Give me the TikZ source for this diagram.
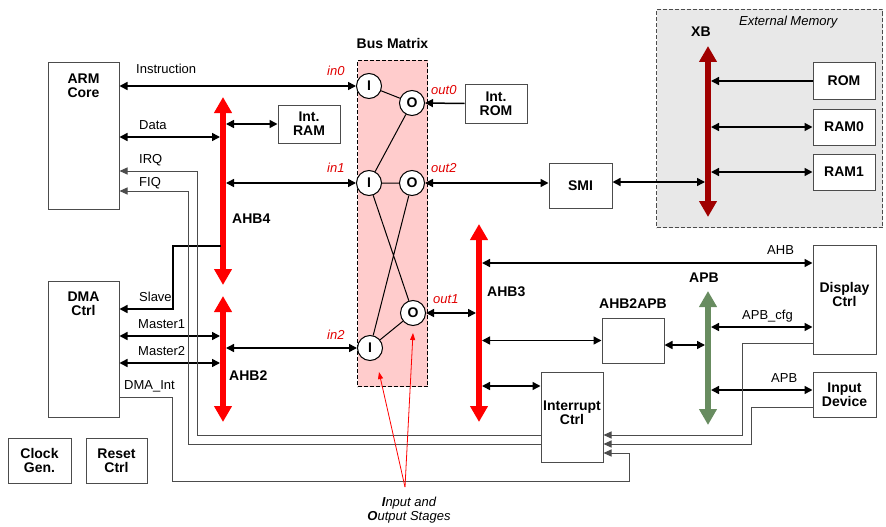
\documentclass[tikz,border=0pt]{standalone}
\usepackage{fontspec}
\setmainfont{Liberation Sans}
\usetikzlibrary{arrows.meta,positioning}

\definecolor{matrixpink}{RGB}{255,204,204}
\definecolor{extgray}{RGB}{232,232,232}
\definecolor{xbred}{RGB}{160,0,0}
\definecolor{apbgreen}{RGB}{104,140,96}
\definecolor{portred}{RGB}{225,0,0}

\begin{document}
\begin{tikzpicture}[x=1pt,y=-1pt,
    box/.style={draw=black!70, line width=1pt, fill=white, minimum width=62pt,
      minimum height=45pt, inner sep=0pt, align=center,
      font=\fontsize{14}{14}\selectfont\bfseries},
    btxt/.style={inner sep=0pt, align=center, font=\fontsize{14}{14}\selectfont\bfseries},
    lbl/.style={inner sep=0pt, anchor=base west, font=\fontsize{13}{13}\selectfont},
    port/.style={lbl, text=portred, font=\fontsize{13}{13}\selectfont\itshape},
    stage/.style={circle, draw, line width=1pt, fill=white, minimum size=25pt,
      inner sep=0pt, font=\fontsize{14}{14}\selectfont\bfseries},
    bi/.style={line width=1.5pt, {Triangle[length=8pt,width=8pt]}-{Triangle[length=8pt,width=8pt]}},
    uni/.style={line width=1.5pt, -{Triangle[length=8pt,width=8pt]}},
    irq/.style={draw=black!70, line width=1pt, -{Triangle[length=8pt,width=7pt]}},
    busarrow/.style={draw=#1, line width=5.5pt,
      {Triangle[length=16pt,width=17pt]}-{Triangle[length=16pt,width=17pt]}}
  ]
  \useasboundingbox (0,0) rectangle (886,527);

  % Dashed regions
  \node[draw=black!70, dash pattern=on 4pt off 2pt, line width=1pt, fill=extgray,
    minimum width=226pt, minimum height=218pt, anchor=north west] (extmem) at (656,9) {};
  \node[lbl, font=\fontsize{13}{13}\selectfont\itshape] (extt) at (739,26) {External Memory};
  \node[draw, dash pattern=on 4pt off 2pt, line width=1pt, fill=matrixpink,
    minimum width=70pt, minimum height=326pt, anchor=north west] (busmat) at (357,60) {};
  \node[btxt, above=11pt of busmat.north] (busmatt) {Bus Matrix};

  % Masters and slaves
  \node[box, minimum width=71pt, minimum height=146pt] (arm) at (83.5,136) {};
  \node[btxt, below=11pt of arm.north] (armt) {ARM\\Core};
  \node[box, minimum width=71pt, minimum height=136pt] (dma) at (83.5,349) {};
  \node[btxt, below=11pt of dma.north] (dmat) {DMA\\Ctrl};
  \node[box, minimum width=63pt] (clk) at (39.5,460.5) {Clock\\Gen.};
  \node[box, minimum width=61pt] (rst) at (116.5,460.5) {Reset\\Ctrl};
  \node[box, minimum height=38pt] (intram) at (309,124) {Int.\\RAM};
  \node[box, minimum height=39pt] (introm) at (496,103.5) {Int.\\ROM};
  \node[box, minimum width=63pt] (smi) at (580.5,185.5) {SMI};
  \node[box, minimum height=36pt] (rom) at (844,81) {ROM};
  \node[box, minimum height=36pt] (ram0) at (844,127) {RAM0};
  \node[box, minimum height=36pt] (ram1) at (844,172) {RAM1};
  \node[box, minimum width=63pt, minimum height=109pt] (disp) at (844.5,299.5) {};
  \node[btxt] (dispt) at (844.5,294) {Display\\Ctrl};
  \node[box, minimum width=63pt] (inp) at (844.5,394.5) {Input\\Device};
  \node[box] (a2a) at (633,340.5) {};
  \node[btxt, above=9pt of a2a] (a2at) {AHB2APB};
  \node[box, minimum height=90pt] (intc) at (572,417) {};
  \node[btxt] (intct) at (572,412.5) {Interrupt\\Ctrl};

  % Input and output stages
  \node[stage] (i0) at (369,86) {I};
  \node[stage] (o0) at (412,103) {O};
  \node[stage] (i1) at (369,183) {I};
  \node[stage] (o2) at (412,183) {O};
  \node[stage] (o1) at (413,313) {O};
  \node[stage] (i2) at (370,348) {I};
  \draw[line width=1pt] (i0) -- (o0) (o0) -- (i1) (i1) -- (o2)
    (i1) -- (o1) (o2) -- (i2) (i2) -- (o1);
  \node[port] (in0) at (327,76) {in0};
  \node[port] (out0) at (431,94) {out0};
  \node[port] (in1) at (327,172) {in1};
  \node[port] (out2) at (431,172) {out2};
  \node[port] (out1) at (433,303) {out1};
  \node[port] (in2) at (327,339) {in2};

  % Buses
  \draw[busarrow=red] (223,97) -- (223,285);
  \draw[busarrow=red] (223,296) -- (223,422);
  \draw[busarrow=red] (479,224) -- (479,422);
  \draw[busarrow=apbgreen] (708,291) -- (708,425);
  \draw[busarrow=xbred] (708,46) -- (708,217);
  \node[btxt, anchor=base west] (ahb4) at (232,223) {AHB4};
  \node[btxt, anchor=base west] (ahb2) at (229,380) {AHB2};
  \node[btxt, anchor=base west] (ahb3) at (487,296) {AHB3};
  \node[btxt, anchor=base west] (apb) at (689,282) {APB};
  \node[btxt, anchor=base west] (xb) at (691,37) {XB};

  % Taps on the buses
  \coordinate (t-data) at (220,137);
  \coordinate (t-ram) at (226,124);
  \coordinate (t-in1) at (226,183);
  \coordinate (t-slave) at (221,246);
  \coordinate (t-m1) at (220,336);
  \coordinate (t-m2) at (220,363);
  \coordinate (t-in2) at (226,348);
  \coordinate (t-out1) at (476,313);
  \coordinate (t-ahb) at (482,263);
  \coordinate (t-a2a) at (482,340.5);
  \coordinate (t-intc) at (482,386);
  \coordinate (t-apbl) at (705,345);
  \coordinate (t-cfg) at (711,327);
  \coordinate (t-inp) at (711,390);
  \coordinate (t-smi) at (705,182);
  \coordinate (t-rom) at (711,81);
  \coordinate (t-ram0) at (711,127);
  \coordinate (t-ram1) at (711,172);

  % Connections
  \draw[bi] (arm.east |- i0.west) -- (i0.west);
  \draw[bi] (arm.east |- t-data) -- (t-data);
  \draw[bi] (t-ram) -- (intram.west);
  \draw[bi] (t-in1) -- (i1.west);
  \draw[uni] (t-slave) -- ++(-48,0) |- ([yshift=40pt]dma.east);
  \draw[bi] (dma.east |- t-m1) -- (t-m1);
  \draw[bi] (dma.east |- t-m2) -- (t-m2);
  \draw[bi] (t-in2) -- (i2.west);
  \draw[uni] (introm.west) -- (o0.east);
  \draw[bi] (o2.east) -- (smi.west |- o2.east);
  \draw[bi] (o1.east) -- (t-out1);
  \draw[bi] (smi.east |- t-smi) -- (t-smi);
  \draw[uni] (rom.west) -- (t-rom);
  \draw[bi] (t-ram0) -- (ram0.west);
  \draw[bi] (t-ram1) -- (ram1.west);
  \draw[bi] (t-ahb) -- (disp.west |- t-ahb);
  \draw[bi] (t-a2a) -- (a2a.west);
  \draw[bi] (a2a.east |- t-apbl) -- (t-apbl);
  \draw[bi] (t-intc) -- (intc.west |- t-intc);
  \draw[bi] (t-cfg) -- (disp.west |- t-cfg);
  \draw[bi] (t-inp) -- (inp.west |- t-inp);

  % Interrupt lines
  \draw[irq] ([yshift=-18pt]intc.west) -- ++(-343,0) |- ([yshift=-35pt]arm.east);
  \draw[irq] ([yshift=-27pt]intc.west) -- ++(-352,0) |- ([yshift=-55pt]arm.east);
  \draw[irq] ([yshift=-48pt]dma.east) -- ++(53,0) -- ++(0,84) -- ++(457,0)
    |- ([yshift=-36pt]intc.east);
  \draw[irq] ([yshift=-43.5pt]disp.west) -- ++(-70,0) |- ([yshift=-18pt]intc.east);
  \draw[irq] ([yshift=-12.5pt]inp.west) -- ++(-61,0) |- ([yshift=-27pt]intc.east);

  % Signal labels
  \node[lbl] (instr) at (136,74) {Instruction};
  \node[lbl] (datal) at (139,129) {Data};
  \node[lbl] (irql) at (139,163) {IRQ};
  \node[lbl] (fiql) at (139,186) {FIQ};
  \node[lbl] (slavel) at (139,301) {Slave};
  \node[lbl] (m1l) at (138,328) {Master1};
  \node[lbl] (m2l) at (138,355) {Master2};
  \node[lbl] (dmail) at (124,389) {DMA\_Int};
  \node[lbl] (ahbl) at (767,254) {AHB};
  \node[lbl] (cfgl) at (742,319) {APB\_cfg};
  \node[lbl] (apbl) at (771,382) {APB};

  % Annotation
  \node[inner sep=0pt, align=center, anchor=north, font=\fontsize{13}{14}\selectfont\itshape]
    (stages) at (409,497) {\textbf{I}nput and\\\textbf{O}utput Stages};
  \draw[red, line width=0.8pt, -{Triangle[length=7pt,width=5pt]}]
    ([shift={(-4,-10)}]stages.north) -- ([shift={(9,24)}]i2.center);
  \draw[red, line width=0.8pt, -{Triangle[length=7pt,width=5pt]}]
    ([shift={(-4,-10)}]stages.north) -- ([yshift=-20pt]o1.center);

\end{tikzpicture}
\end{document}
